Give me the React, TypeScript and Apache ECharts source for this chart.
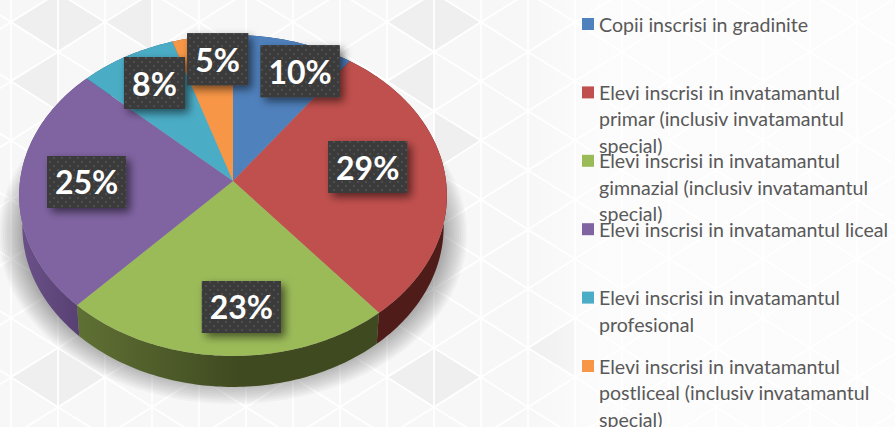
import React, { useEffect, useRef } from "react";
import * as echarts from "echarts";

const categories = [
  "Copii inscrisi in gradinite",
  "Elevi inscrisi in invatamantul\nprimar (inclusiv invatamantul\nspecial)",
  "Elevi inscrisi in invatamantul\ngimnazial (inclusiv invatamantul\nspecial)",
  "Elevi inscrisi in invatamantul liceal",
  "Elevi inscrisi in invatamantul\nprofesional",
  "Elevi inscrisi in invatamantul\npostliceal (inclusiv invatamantul\nspecial)",
];
const values = [10, 29, 23, 25, 8, 5];
const colors = ["#4f81bd", "#c0504d", "#9bbb59", "#8064a2", "#4bacc6", "#f79646"];
const wallColors = ["#2c4a6e", "#4f1c1a", "#4a5a26", "#5d4577", "#2a6170", "#8f5422"];

// Layout of the tilted disc
const APEX_X = 233, APEX_Y = 181, R = 213, TILT_C = -0.0903, TILT_A = 142.8, DEPTH = 31, WALL_SCALE = 0.985;
const labelNudge = [[19, 1], [-31, -10], [14, -7.5], [20, -3], [5.5, 1], [9, -7]];

const total = values.reduce((a, b) => a + b, 0);
const startOf = (i: number) => values.slice(0, i).reduce((a, b) => a + b, 0);

function project(r: number, pct: number) {
  const th = (pct / total) * Math.PI * 2;
  const s = r * Math.sin(th), t = -r * Math.cos(th);
  const den = 1 + TILT_C * t;
  return [APEX_X + (R * s) / den, (APEX_Y + TILT_A * t) / den];
}
function rim(i: number) {
  const a = startOf(i), b = a + values[i], pts: number[][] = [];
  const n = Math.ceil((values[i] / total) * 360);
  for (let k = 0; k <= n; k++) pts.push(project(1, a + ((b - a) * k) / n));
  return pts;
}

// Background triangle lattice
const LX = 11, LY = 22, DX = 47, DY = 59.2;
const darkSpots = [[43, 22], [74, 22], [43, 82], [419, 20], [450, 20], [419, 80], [419, 377], [450, 377], [41, 377], [73, 377], [561, 347], [450, 141], [137, 22], [137, 141]];
function node(i: number, j: number) {
  return [LX + DX * i, LY + DY * j + (((i % 2) + 2) % 2 === 1 ? 30 : 0)];
}
function shrink(tri: number[][], gap: number) {
  const cx = (tri[0][0] + tri[1][0] + tri[2][0]) / 3, cy = (tri[0][1] + tri[1][1] + tri[2][1]) / 3;
  const k = 1 - gap;
  return { pts: tri.map((p) => [cx + (p[0] - cx) * k, cy + (p[1] - cy) * k]), cx, cy };
}
function latticeElements() {
  const out: any[] = [];
  for (let i = -1; i < 20; i++) {
    const odd = ((i % 2) + 2) % 2 === 1;
    for (let j = -1; j < 8; j++) {
      const tris = odd
        ? [[node(i, j), node(i + 1, j), node(i + 1, j + 1)], [node(i, j), node(i, j + 1), node(i + 1, j + 1)]]
        : [[node(i, j), node(i + 1, j - 1), node(i + 1, j)], [node(i, j), node(i, j + 1), node(i + 1, j)]];
      tris.forEach((tri) => {
        const sh = shrink(tri, 0.055);
        const dark = darkSpots.some((d) => Math.hypot(d[0] - sh.cx, d[1] - sh.cy) < 14);
        out.push({
          type: "polygon", silent: true, z: -10,
          shape: { points: sh.pts },
          style: { fill: dark ? "#efefef" : "#f7f7f7" },
        });
      });
    }
  }
  return out;
}
function softShadow() {
  const out: any[] = [];
  for (let k = 0; k < 14; k++) {
    out.push({
      type: "ellipse", silent: true, z: -8,
      shape: { cx: 233, cy: 234, rx: 234 - k * 2, ry: 170 - k * 2 },
      style: { fill: "rgba(0,0,0,0.028)" },
    });
  }
  return out;
}

function dotPattern() {
  const c = document.createElement("canvas");
  c.width = 8; c.height = 8;
  const g = c.getContext("2d")!;
  g.fillStyle = "#3b3b3b"; g.fillRect(0, 0, 8, 8);
  g.fillStyle = "#4e4e4e";
  g.fillRect(1, 1, 2, 2); g.fillRect(5, 5, 2, 2);
  return c;
}

export default function App() {
  const ref = useRef<HTMLDivElement>(null);
  useEffect(() => {
    const chart = echarts.init(ref.current!, undefined, { renderer: "svg" });
    const pattern = { image: dotPattern(), repeat: "repeat" };
    const data = values.map((v) => v);
    const legendEls: any[] = [];
    categories.forEach((name, i) => {
      const top = 18 + i * 68.4;
      legendEls.push({ type: "rect", silent: true, shape: { x: 582, y: top, width: 12, height: 12 }, style: { fill: colors[i] } });
      legendEls.push({
        type: "text", silent: true, x: 599, y: top - 7,
        style: { text: name, fill: "#595959", font: "19.6px Lato", lineHeight: 26.4, align: "left", verticalAlign: "top" },
      });
    });
    chart.setOption({
      animation: false,
      backgroundColor: "#ffffff",
      graphic: {
        elements: [
          ...latticeElements(),
          {
            type: "rect", silent: true, z: -9,
            shape: { x: 530, y: 0, width: 365, height: 427 },
            style: {
              fill: new echarts.graphic.LinearGradient(530, 0, 600, 0, [
                { offset: 0, color: "rgba(255,255,255,0)" },
                { offset: 1, color: "rgba(255,255,255,0.6)" },
              ], true),
            },
          },
          ...softShadow(),
          ...legendEls,
        ],
      },
      series: [
        {
          type: "custom", coordinateSystem: "none", z: 2, silent: true, data,
          renderItem: (p: any) => {
            const i = p.dataIndex;
            const top = rim(i);
            const low = top.map((q) => [APEX_X + (q[0] - APEX_X) * WALL_SCALE, q[1] + DEPTH]).reverse();
            const fill = i === 2
              ? new echarts.graphic.LinearGradient(78, 0, 240, 0, [{ offset: 0, color: "#5f7034" }, { offset: 1, color: "#3f4a20" }], true)
              : i === 3
              ? new echarts.graphic.LinearGradient(20, 0, 80, 0, [{ offset: 0, color: "#6b5189" }, { offset: 1, color: "#574072" }], true)
              : wallColors[i];
            return { type: "polygon", shape: { points: [...top, ...low] }, style: { fill } };
          },
        },
        {
          type: "custom", coordinateSystem: "none", z: 3, silent: true, data,
          renderItem: (p: any) => ({
            type: "polygon",
            shape: { points: [[APEX_X, APEX_Y], ...rim(p.dataIndex)] },
            style: { fill: colors[p.dataIndex] },
          }),
        },
        {
          type: "custom", coordinateSystem: "none", z: 4, silent: true, data,
          renderItem: (p: any, api: any) => {
            const i = p.dataIndex;
            const a = project(0.78, startOf(i) + values[i] / 2);
            const cx = a[0] + labelNudge[i][0], cy = a[1] + labelNudge[i][1];
            const text = api.value(0) + "%";
            const w = text.length === 3 ? 79 : 61, h = 52;
            return {
              type: "group",
              children: [
                {
                  type: "rect",
                  shape: { x: cx - w / 2, y: cy - h / 2, width: w, height: h },
                  style: { fill: "#3b3b3b", shadowBlur: 9, shadowOffsetX: 4, shadowOffsetY: 4, shadowColor: "rgba(0,0,0,0.55)" },
                },
                { type: "rect", shape: { x: cx - w / 2, y: cy - h / 2, width: w, height: h }, style: { fill: pattern } },
                {
                  type: "text", x: cx, y: cy,
                  style: { text, fill: "#ffffff", font: "bold 32px Lato", align: "center", verticalAlign: "middle" },
                },
              ],
            };
          },
        },
      ],
    });
    return () => chart.dispose();
  }, []);
  return <div ref={ref} style={{ width: 895, height: 427, position: "fixed", left: 0, top: 0 }} />;
}
